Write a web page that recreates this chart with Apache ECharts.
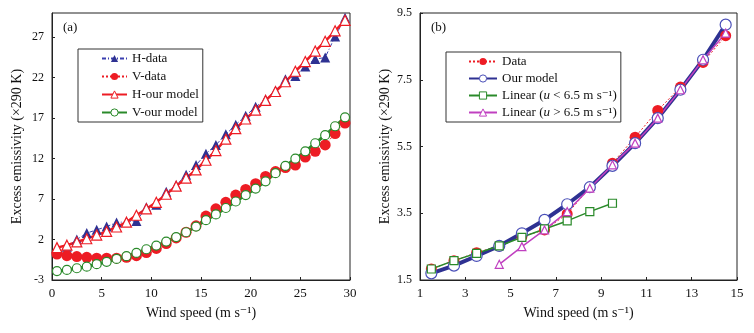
<!DOCTYPE html>
<html>
<head>
<meta charset="utf-8">
<script src="https://cdn.jsdelivr.net/npm/echarts@6/dist/echarts.min.js"></script>
<style>
html, body { margin: 0; padding: 0; background: #fff; }
#main { width: 754px; height: 333px; }
</style>
</head>
<body>
<div id="main"></div>
<script>
// panel (a): emissivity vs wind speed, H and V polarisation
var windA = [0.5, 1.5, 2.5, 3.5, 4.5, 5.5, 6.5, 7.5, 8.5, 9.5, 10.5, 11.5, 12.5, 13.5, 14.5,
             15.5, 16.5, 17.5, 18.5, 19.5, 20.5, 21.5, 22.5, 23.5, 24.5, 25.5, 26.5, 27.5, 28.5, 29.5];
var hData  = [null, 1.1, 2.0, 2.8, 3.2, 3.6, 4.1, 4.2, 4.3, 6.0, 6.3, 7.9, 8.7, 10.0, 11.2,
              12.6, 13.7, 15.0, 16.2, 17.3, 18.4, 19.3, 20.4, 21.8, 22.2, 23.4, 24.3, 24.5, 27.1, 29.4];
var vData  = [0.2, 0.0, -0.1, -0.2, -0.3, -0.3, -0.3, -0.2, 0.0, 0.4, 0.9, 1.5, 2.2, 2.9, 3.7,
              4.9, 5.8, 6.6, 7.5, 8.2, 8.9, 9.8, 10.4, 10.9, 11.2, 12.2, 12.9, 13.7, 15.1, 16.4];
var hModel = [1.0, 1.3, 1.7, 2.1, 2.55, 3.0, 3.55, 4.15, 5.0, 5.8, 6.6, 7.6, 8.6, 9.6, 10.6,
              11.8, 13.0, 14.4, 15.7, 16.9, 18.0, 19.2, 20.3, 21.5, 22.8, 24.0, 25.3, 26.5, 27.8, 29.1];
var vModel = [-1.9, -1.75, -1.55, -1.35, -1.05, -0.75, -0.4, -0.05, 0.35, 0.8, 1.25, 1.75, 2.3, 2.9, 3.6,
              4.4, 5.1, 5.9, 6.7, 7.5, 8.3, 9.2, 10.2, 11.1, 12.0, 12.9, 13.9, 14.9, 16.0, 17.1];

// panel (b)
var windB   = [1.5, 2.5, 3.5, 4.5, 5.5, 6.5, 7.5, 8.5, 9.5, 10.5, 11.5, 12.5, 13.5, 14.5];
var dataB   = [1.83, 2.08, 2.32, 2.52, 2.8, 3.0, 3.48, 4.27, 5.0, 5.78, 6.58, 7.28, 8.02, 8.82];
var modelB  = [1.7, 1.93, 2.22, 2.52, 2.9, 3.3, 3.77, 4.28, 4.92, 5.6, 6.35, 7.2, 8.1, 9.15];
var windLow = [1.5, 2.5, 3.5, 4.5, 5.5, 6.5, 7.5, 8.5, 9.5];
var linLow  = [1.83, 2.08, 2.3, 2.52, 2.78, 3.03, 3.27, 3.55, 3.8];
var windHigh = [4.5, 5.5, 6.5, 7.5, 8.5, 9.5, 10.5, 11.5, 12.5, 13.5, 14.5];
var linHigh  = [1.97, 2.5, 3.0, 3.55, 4.25, 4.95, 5.6, 6.35, 7.2, 8.1, 8.9];

function pairs(xs, ys) {
    var out = [];
    for (var i = 0; i < xs.length; i++) {
        if (ys[i] !== null) out.push([xs[i], ys[i]]);
    }
    return out;
}

var serif = '"Liberation Serif", "DejaVu Serif", serif';
var RED = '#ed1c24', BLUE = '#2e3192', GREEN = '#2a8a2a', MAG = '#c040c0';

function xAxisCfg(idx, min, max, step) {
    return {
        type: 'value', gridIndex: idx, min: min, max: max, interval: step,
        name: 'Wind speed (m s\u207B\u00B9)', nameLocation: 'middle', nameGap: 26,
        nameTextStyle: { fontFamily: serif, fontSize: 14, color: '#111' },
        axisLine: { onZero: false, lineStyle: { color: '#222', width: 1 } },
        axisTick: { inside: true, length: 3, lineStyle: { color: '#222' } },
        axisLabel: { fontFamily: serif, fontSize: 13, color: '#111', margin: 7 },
        splitLine: { show: false }
    };
}

function yAxisCfg(idx, min, max, step, gap, showMax) {
    return {
        type: 'value', gridIndex: idx, min: min, max: max, interval: step,
        name: 'Excess emissivity (\u00D7290 K)', nameLocation: 'middle', nameGap: gap,
        nameTextStyle: { fontFamily: serif, fontSize: 14, color: '#111' },
        axisLine: { onZero: false, lineStyle: { color: '#222', width: 1 } },
        axisTick: { inside: true, length: 3, lineStyle: { color: '#222' } },
        axisLabel: { fontFamily: serif, fontSize: 12, color: '#111', margin: 8, showMaxLabel: showMax,
            formatter: function (v) { return step === 2 ? v.toFixed(1) : String(v); } },
        splitLine: { show: false }
    };
}

var legendText = { fontFamily: serif, fontSize: 13, color: '#111',
    rich: { i: { fontFamily: serif, fontSize: 13, fontStyle: 'italic', color: '#111' } } };

var myChart = echarts.init(document.getElementById('main'));

option = {
    animation: false,
    title: [
        { text: '(a)', left: 58, top: 16, textStyle: { fontFamily: serif, fontSize: 13, fontWeight: 'normal', color: '#111' } },
        { text: '(b)', left: 426, top: 16, textStyle: { fontFamily: serif, fontSize: 13, fontWeight: 'normal', color: '#111' } }
    ],
    grid: [
        { left: 52, right: 404, top: 13, bottom: 53, show: true, borderColor: '#222', borderWidth: 1 },
        { left: 420, right: 17, top: 13, bottom: 53, show: true, borderColor: '#222', borderWidth: 1 }
    ],
    xAxis: [xAxisCfg(0, 0, 30, 5), xAxisCfg(1, 1, 15, 2)],
    yAxis: [yAxisCfg(0, -3, 30, 5, 28, false), yAxisCfg(1, 1.5, 9.5, 2, 28, true)],
    legend: [
        {
            orient: 'vertical', left: 78, top: 49, itemWidth: 25, itemHeight: 9, itemGap: 5,
            padding: [3, 4, 3, 23], borderColor: '#333', borderWidth: 1, backgroundColor: '#fff',
            itemStyle: { borderWidth: 1 },
            textStyle: legendText,
            data: ['H-data', 'V-data', 'H-our model', 'V-our model']
        },
        {
            orient: 'vertical', left: 446, top: 52, itemWidth: 28, itemHeight: 9, itemGap: 4,
            padding: [3, 4, 3, 22], borderColor: '#333', borderWidth: 1, backgroundColor: '#fff',
            itemStyle: { borderWidth: 1 },
            textStyle: legendText,
            formatter: function (name) {
                if (name === 'lin1') return 'Linear ({i|u} < 6.5 m s\u207B\u00B9)';
                if (name === 'lin2') return 'Linear ({i|u} > 6.5 m s\u207B\u00B9)';
                return name;
            },
            data: ['Data', 'Our model', 'lin1', 'lin2']
        }
    ],
    series: [
        {
            name: 'H-data', type: 'line', xAxisIndex: 0, yAxisIndex: 0,
            data: pairs(windA, hData),
            symbol: 'triangle', symbolSize: 10,
            itemStyle: { color: BLUE },
            lineStyle: { color: '#3a3fb0', width: 1, type: [4, 2, 1, 2] }
        },
        {
            name: 'V-data', type: 'line', xAxisIndex: 0, yAxisIndex: 0,
            data: pairs(windA, vData),
            symbol: 'circle', symbolSize: 11,
            itemStyle: { color: RED },
            lineStyle: { color: RED, width: 1, type: [2, 2] }
        },
        {
            name: 'H-our model', type: 'line', xAxisIndex: 0, yAxisIndex: 0,
            data: pairs(windA, hModel),
            symbol: 'triangle', symbolSize: 10,
            itemStyle: { color: '#fff', borderColor: RED, borderWidth: 1.2 },
            lineStyle: { color: RED, width: 2.5 }
        },
        {
            name: 'V-our model', type: 'line', xAxisIndex: 0, yAxisIndex: 0,
            data: pairs(windA, vModel),
            symbol: 'circle', symbolSize: 9,
            itemStyle: { color: '#fff', borderColor: GREEN, borderWidth: 1.2 },
            lineStyle: { color: GREEN, width: 3 }
        },
        {
            name: 'Data', type: 'line', xAxisIndex: 1, yAxisIndex: 1,
            data: pairs(windB, dataB),
            symbol: 'circle', symbolSize: 11,
            itemStyle: { color: RED },
            lineStyle: { color: RED, width: 1, type: [2, 2] }
        },
        {
            name: 'Our model', type: 'line', xAxisIndex: 1, yAxisIndex: 1,
            data: pairs(windB, modelB),
            symbol: 'circle', symbolSize: 11,
            itemStyle: { color: '#fff', borderColor: '#4a4fb8', borderWidth: 1.2 },
            lineStyle: { color: BLUE, width: 4 }
        },
        {
            name: 'lin1', type: 'line', xAxisIndex: 1, yAxisIndex: 1,
            data: pairs(windLow, linLow),
            symbol: 'rect', symbolSize: 8,
            itemStyle: { color: '#fff', borderColor: GREEN, borderWidth: 1.2 },
            lineStyle: { color: GREEN, width: 1.5 }
        },
        {
            name: 'lin2', type: 'line', xAxisIndex: 1, yAxisIndex: 1,
            data: pairs(windHigh, linHigh),
            symbol: 'triangle', symbolSize: 8,
            itemStyle: { color: '#fff', borderColor: MAG, borderWidth: 1.2 },
            lineStyle: { color: MAG, width: 1.5 }
        }
    ]
};

if (option && typeof option === "object") {
    myChart.setOption(option, true);
}

window.addEventListener("resize", function () {
    myChart.resize();
});
</script>
</body>
</html>
